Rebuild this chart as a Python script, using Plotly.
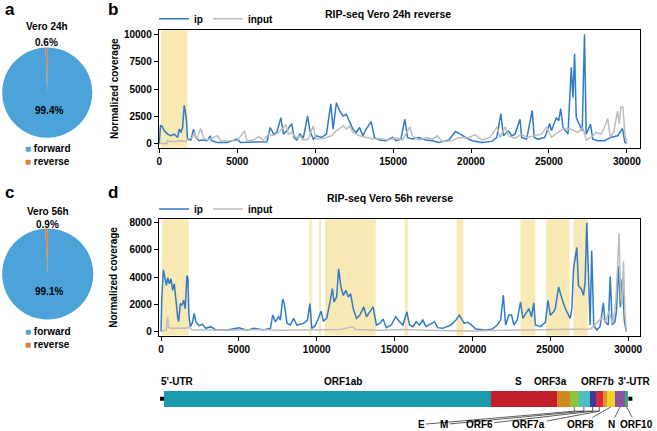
import plotly.graph_objects as go

# ---------------- data ----------------
pie_labels = ["forward", "reverse"]
pie_24h = [99.4, 0.6]
pie_56h = [99.1, 0.9]

# RIP-seq Vero 24h reverse: (genome position, normalized coverage)
b_ip = [(3,30),(66,1636),(151,1636),(321,1182),(533,879),(746,727),(958,879),(1170,576),(1276,1333),(1383,1030),
        (1489,1485),(1595,3515),(1659,3000),(1744,2090),(1807,424),(2020,333),(2189,1333),(2338,576),(2550,273),(2763,333),
        (3081,273),(3251,727),(3336,273),(3718,121),(4355,121),(4992,424),(5204,121),(6053,121),(6902,182),(7115,1485),
        (7327,879),(7539,1030),(7794,2394),(7964,879),(8176,1182),(8495,1848),(8643,576),(8813,333),(9025,879),(9238,515),
        (9513,2545),(9662,1182),(9875,424),(10087,727),(10405,576),(10724,879),(11000,3666),(11148,1333),(11361,3757),(11573,3000),
        (11785,2545),(11998,2697),(12167,2090),(12422,1333),(12635,1030),(12847,1485),(13059,727),(13271,1333),(13590,2030),(13802,576),
        (14121,333),(14545,273),(14970,576),(15182,273),(15500,424),(15755,2242),(15925,576),(16244,424),(16668,576),(17093,333),
        (17517,273),(17942,121),(18579,333),(19004,1121),(19322,879),(19640,576),(20065,273),(20702,121),(21339,212),(21657,576),
        (21912,2757),(22082,727),(22400,1182),(22613,727),(22825,879),(23143,2242),(23250,576),(23568,424),(23929,3060),(24056,576),
        (24311,424),(24736,576),(25054,1848),(25160,1182),(25479,2394),(25628,2090),(25755,3212),(25904,1485),(26222,879),(26434,7000),
        (26541,4212),(26647,8242),(26753,2394),(26965,1636),(27135,1182),(27283,10030),(27390,879),(27666,1788),(27814,424),(28133,273),
        (28557,273),(28982,576),(29407,727),(29725,1394),(29873,121),(30000,30)]
b_input = [(3,30),(480,30),(533,273),(700,212),(1000,212),(1300,273),(1701,212),(1807,424),(2126,576),(2232,1030),
           (2402,424),(2656,1394),(2826,576),(3081,333),(3718,727),(3930,273),(4355,273),(4992,273),(5459,1182),(5629,273),
           (6053,333),(6372,636),(6690,333),(7009,879),(7327,727),(7645,1030),(7858,1333),(8134,1727),(8282,879),(8495,1030),
           (8813,515),(9025,727),(9238,333),(9556,424),(9875,1636),(10044,424),(10405,424),(10724,576),(11042,727),(11361,1182),
           (11573,1424),(11828,1636),(11998,1333),(12210,1636),(12422,1030),(12847,727),(13271,576),(13696,424),(14121,485),(14651,333),
           (15182,515),(15607,333),(16074,1545),(16244,727),(16668,333),(17093,576),(17517,424),(17836,727),(18154,212),(18791,273),
           (19216,576),(19747,515),(20277,818),(20702,333),(21233,576),(21445,1030),(21657,1545),(21870,576),(22188,1545),(22400,727),
           (22825,515),(23250,879),(23568,576),(24099,727),(24523,879),(24842,1545),(25160,576),(25585,1030),(26009,1424),(26434,1333),
           (26859,1030),(27176,1485),(27390,333),(27708,576),(28026,1030),(28345,879),(28557,1485),(28769,2303),(28939,576),(29151,1030),
           (29407,3000),(29512,1788),(29619,3363),(29746,3363),(29873,879),(30000,30)]

# RIP-seq Vero 56h reverse
d_ip = [(0,0),(43,2424),(149,4533),(255,3878),(340,3394),(426,3951),(532,3515),(638,3878),(745,3030),(851,3515),
        (958,2060),(1064,1091),(1128,727),(1234,2060),(1341,1939),(1447,2303),(1553,1697),(1660,4121),(1724,3878),(1788,1212),
        (1873,364),(2022,679),(2128,1333),(2234,727),(2447,436),(2660,533),(2873,242),(3192,364),(3511,121),(4256,121),
        (5001,291),(5533,97),(5958,242),(6597,121),(7022,242),(7171,1212),(7342,727),(7554,1091),(7661,848),(7810,2376),
        (7916,2060),(8086,606),(8299,485),(8512,970),(8725,485),(8938,533),(9150,606),(9406,848),(9555,2060),(9682,242),
        (9895,436),(10065,848),(10278,1503),(10427,776),(10640,970),(10853,2182),(11002,3151),(11108,2182),(11278,2545),(11406,4606),
        (11555,3272),(11704,2666),(11874,3030),(12023,2545),(12172,2788),(12342,1697),(12555,970),(12768,1212),(13023,1818),(13194,1091),
        (13406,1454),(13619,1818),(13832,485),(14045,606),(14258,921),(14470,291),(14790,485),(15066,1091),(15322,727),(15534,485),
        (15790,1454),(15960,485),(16173,364),(16386,727),(16598,485),(16811,848),(17024,364),(17343,606),(17556,727),(17769,291),
        (18088,242),(18620,485),(18939,848),(19152,1212),(19258,970),(19471,606),(19684,679),(19897,533),(20216,194),(20854,97),
        (21280,194),(21599,485),(21812,848),(21982,2666),(22131,485),(22344,1212),(22514,1212),(22663,485),(22876,848),(23089,2182),
        (23238,970),(23408,1333),(23621,1697),(23791,1091),(23940,2109),(24046,485),(24366,364),(24685,679),(24855,2303),(25004,1212),
        (25217,1454),(25323,1697),(25536,3272),(25750,2424),(25962,1697),(26281,970),(26387,1697),(26494,4606),(26600,5575),(26706,6181),
        (26813,3394),(26983,3151),(27132,2666),(27238,3636),(27345,7999),(27451,4606),(27558,485),(27664,5939),(27792,485),(27983,121),
        (28196,364),(28409,2109),(28515,727),(28728,485),(28850,4048),(28979,500),(29150,700),(29250,1500),(29380,4800),(29500,1800),
        (29620,3880),(29760,800),(29880,0)]
d_input = [(0,0),(340,121),(426,1091),(490,300),(600,240),(1000,240),(1500,240),(1800,300),(2000,121),(3000,121),
           (3500,97),(5000,121),(6500,150),(7500,97),(9000,121),(10500,100),(11500,150),(12300,360),(12500,150),(14000,100),
           (15500,150),(17000,100),(20000,50),(22000,100),(24000,121),(26000,150),(27000,200),(27600,200),(28022,680),(28341,1040),
           (28554,700),(28767,1500),(29000,600),(29150,1500),(29250,3000),(29420,7220),(29520,2500),(29600,2000),(29700,5160),(29800,1200),
           (29900,0)]

b_regions = [(100, 1800)]
d_regions = [(60, 1770), (9512, 9682), (10150, 10278), (10534, 13790), (15641, 15854),
             (18982, 19429), (23089, 24046), (24727, 26238), (26494, 27409)]

# genome map (schematic positions, nt)
gene_names  = ["ORF1ab", "S", "ORF3a", "E", "M", "ORF6", "ORF7a", "ORF7b", "ORF8", "N", "ORF10"]
gene_starts = [172, 21173, 25385, 26279, 26809, 27511, 27939, 28360, 28616, 29171, 29790]
gene_ends   = [21173, 25385, 26279, 26809, 27511, 27939, 28360, 28616, 29171, 29790, 30000]
gene_colors = ["#1a9bad", "#c21f2a", "#d08a22", "#8cc43f", "#4bbfc4", "#3c3c96",
               "#d6293b", "#e0922f", "#ecd42a", "#8b4fa3", "#3aaa78"]
utr_names = ["5'-UTR", "3'-UTR"]
utr_pos = [64, 30147]
top_labels = [("5'-UTR", 1066), ("ORF1ab", 11681), ("S", 22979), ("ORF3a", 25002), ("ORF7b", 28022), ("3'-UTR", 30428)]
bottom_labels = [("E", 16704, True), ("M", 18192, True), ("ORF6", 20426, True), ("ORF7a", 23617, True),
                 ("ORF8", 26917, False), ("N", 28915, False), ("ORF10", 30511, False)]

# ---------------- style / layout helpers ----------------
W, H = 657, 431
FONT = "Liberation Sans, Arial, Helvetica, sans-serif"
IP_COLOR = "#2f7bc9"
IN_COLOR = "#bdbdbd"
SHADE = "rgba(246,224,150,0.7)"
PIE_COLORS = ["#4ba3d9", "#e07a35"]


def px(p):
    return p / W


def py(p):
    return 1 - p / H


fig = go.Figure()

fig.add_trace(go.Pie(labels=pie_labels, values=pie_24h, sort=False, direction="counterclockwise",
                     marker=dict(colors=PIE_COLORS, line=dict(width=0)), textinfo="none", showlegend=False,
                     domain=dict(x=[0, px(91)], y=[py(137), py(46)]), hoverinfo="label+percent"))
fig.add_trace(go.Pie(labels=pie_labels, values=pie_56h, sort=False, direction="counterclockwise",
                     marker=dict(colors=PIE_COLORS, line=dict(width=0)), textinfo="none", showlegend=False,
                     domain=dict(x=[0, px(92)], y=[py(320.5), py(228.5)]), hoverinfo="label+percent"))

for series, name, color, xa, ya, lg in [
    (b_ip, "ip", IP_COLOR, "x", "y", "legend"),
    (b_input, "input", IN_COLOR, "x", "y", "legend"),
    (d_ip, "ip", IP_COLOR, "x2", "y2", "legend2"),
    (d_input, "input", IN_COLOR, "x2", "y2", "legend2"),
]:
    fig.add_trace(go.Scatter(x=[p[0] for p in series], y=[p[1] for p in series], mode="lines", name=name,
                             line=dict(color=color, width=1.5), xaxis=xa, yaxis=ya, legend=lg))

# genome bar
fig.add_trace(go.Bar(y=[0.5] * len(gene_names), x=[e - s for s, e in zip(gene_starts, gene_ends)], base=gene_starts,
                     orientation="h", width=0.27, marker=dict(color=gene_colors, line=dict(width=0)),
                     text=gene_names, textposition="none", hoverinfo="text", xaxis="x3", yaxis="y3", showlegend=False))
fig.add_trace(go.Scatter(x=utr_pos, y=[0.5, 0.5], mode="markers", text=utr_names, hoverinfo="text",
                         marker=dict(symbol="square", size=4, color="black"), xaxis="x3", yaxis="y3", showlegend=False))

BAR_BOTTOM = 0.5 - 0.135
BRACKET = 0.295
mids = {n: (s + e) / 2 for n, s, e in zip(gene_names, gene_starts, gene_ends)}
bx, by = [], []
bracketed = [n for n, _, b in bottom_labels if b]
for n in bracketed:
    bx += [mids[n], mids[n], None]
    by += [BAR_BOTTOM, BRACKET, None]
bx += [mids[bracketed[0]], mids[bracketed[-1]]]
by += [BRACKET, BRACKET]
fig.add_trace(go.Scatter(x=bx, y=by, mode="lines", line=dict(color="#333333", width=0.8),
                         xaxis="x3", yaxis="y3", showlegend=False, hoverinfo="skip"))

ann = []
bold = lambda s: dict(family=FONT, size=s, color="black", weight="bold")


def paper_text(t, x, y, size=10, anchor="center"):
    ann.append(dict(text=t, x=px(x), y=py(y), xref="paper", yref="paper", showarrow=False,
                    xanchor=anchor, yanchor="middle", font=bold(size)))


for t, x, y in [("a", 8, 8), ("b", 112, 8), ("c", 8, 192), ("d", 112, 192)]:
    paper_text(t, x, y, 17)
paper_text("RIP-seq Vero 24h reverse", 388, 12, 10.5)
paper_text("RIP-seq Vero 56h reverse", 390, 198, 10.5)
paper_text("Vero 24h", 45, 25)
paper_text(f"{pie_24h[1]}%", 45, 41)
paper_text(f"{pie_24h[0]}%", 47, 110)
paper_text("Vero 56h", 46, 211)
paper_text(f"{pie_56h[1]}%", 46, 225)
paper_text(f"{pie_56h[0]}%", 47, 292)

# pie legends (forward / reverse): one text block with coloured squares
legend_text = "<br>".join(f"<span style='color:{c}'>■</span> {lab}" for lab, c in zip(pie_labels, PIE_COLORS))
for y0 in (154, 339):
    ann.append(dict(text=legend_text, x=px(21), y=py(y0), xref="paper", yref="paper", showarrow=False,
                    xanchor="left", yanchor="middle", align="left",
                    font=dict(family=FONT, size=10, color="black", weight="bold")))

for t, x in top_labels:
    ann.append(dict(text=t, x=x, y=0.787, xref="x3", yref="y3", showarrow=False, font=bold(10)))
for t, x, b in bottom_labels:
    tip_y = BRACKET if b else BAR_BOTTOM
    ann.append(dict(text=t, x=mids[t], y=tip_y, ax=x, ay=0.075, axref="x3", ayref="y3", xref="x3", yref="y3",
                    showarrow=True, arrowhead=0, arrowwidth=0.8, arrowcolor="#333333", font=bold(10)))

shapes = []
for s, e in b_regions:
    shapes.append(dict(type="rect", xref="x", yref="y domain", x0=s, x1=e, y0=0, y1=1,
                       fillcolor=SHADE, line=dict(width=0), layer="below"))
for s, e in d_regions:
    shapes.append(dict(type="rect", xref="x2", yref="y2 domain", x0=s, x1=e, y0=0, y1=1,
                       fillcolor=SHADE, line=dict(width=0), layer="below"))

axis_common = dict(showline=True, mirror=True, linecolor="black", linewidth=1, ticks="outside", ticklen=4,
                   tickwidth=1, tickcolor="black", showgrid=False, zeroline=False, tickformat="d",
                   tickfont=bold(10))
XDOM = [px(157.7), px(642)]
fig.update_layout(
    width=W, height=H, margin=dict(l=0, r=0, t=0, b=0), autosize=False,
    paper_bgcolor="white", plot_bgcolor="rgba(0,0,0,0)",
    font=dict(family=FONT, size=10, color="black"),
    xaxis=dict(domain=XDOM, range=[-40, 30850], dtick=5000, tick0=0, anchor="y", **axis_common),
    yaxis=dict(domain=[py(147), py(28)], range=[-360, 10450], dtick=2500, tick0=0, anchor="x",
               title=dict(text="Normalized coverage", font=bold(10), standoff=3), **axis_common),
    xaxis2=dict(domain=XDOM, range=[-150, 30770], dtick=5000, tick0=0, anchor="y2", **axis_common),
    yaxis2=dict(domain=[py(336.7), py(219.3)], range=[-290, 8250], dtick=2000, tick0=0, anchor="x2",
                title=dict(text="Normalized coverage", font=bold(10), standoff=9), **axis_common),
    xaxis3=dict(domain=XDOM, range=[-150, 30770], visible=False, anchor="y3"),
    yaxis3=dict(domain=[0, py(370)], range=[0, 1], visible=False, anchor="x3"),
    legend=dict(x=px(153), y=py(17), xanchor="left", yanchor="middle", orientation="h", font=bold(10),
                bgcolor="rgba(0,0,0,0)"),
    legend2=dict(x=px(153), y=py(209), xanchor="left", yanchor="middle", orientation="h", font=bold(10),
                 bgcolor="rgba(0,0,0,0)"),
    annotations=ann, shapes=shapes, showlegend=True, bargap=0,
)

fig.write_html("out.html", config={"displayModeBar": False}, post_script="document.body.style.margin='0';")
